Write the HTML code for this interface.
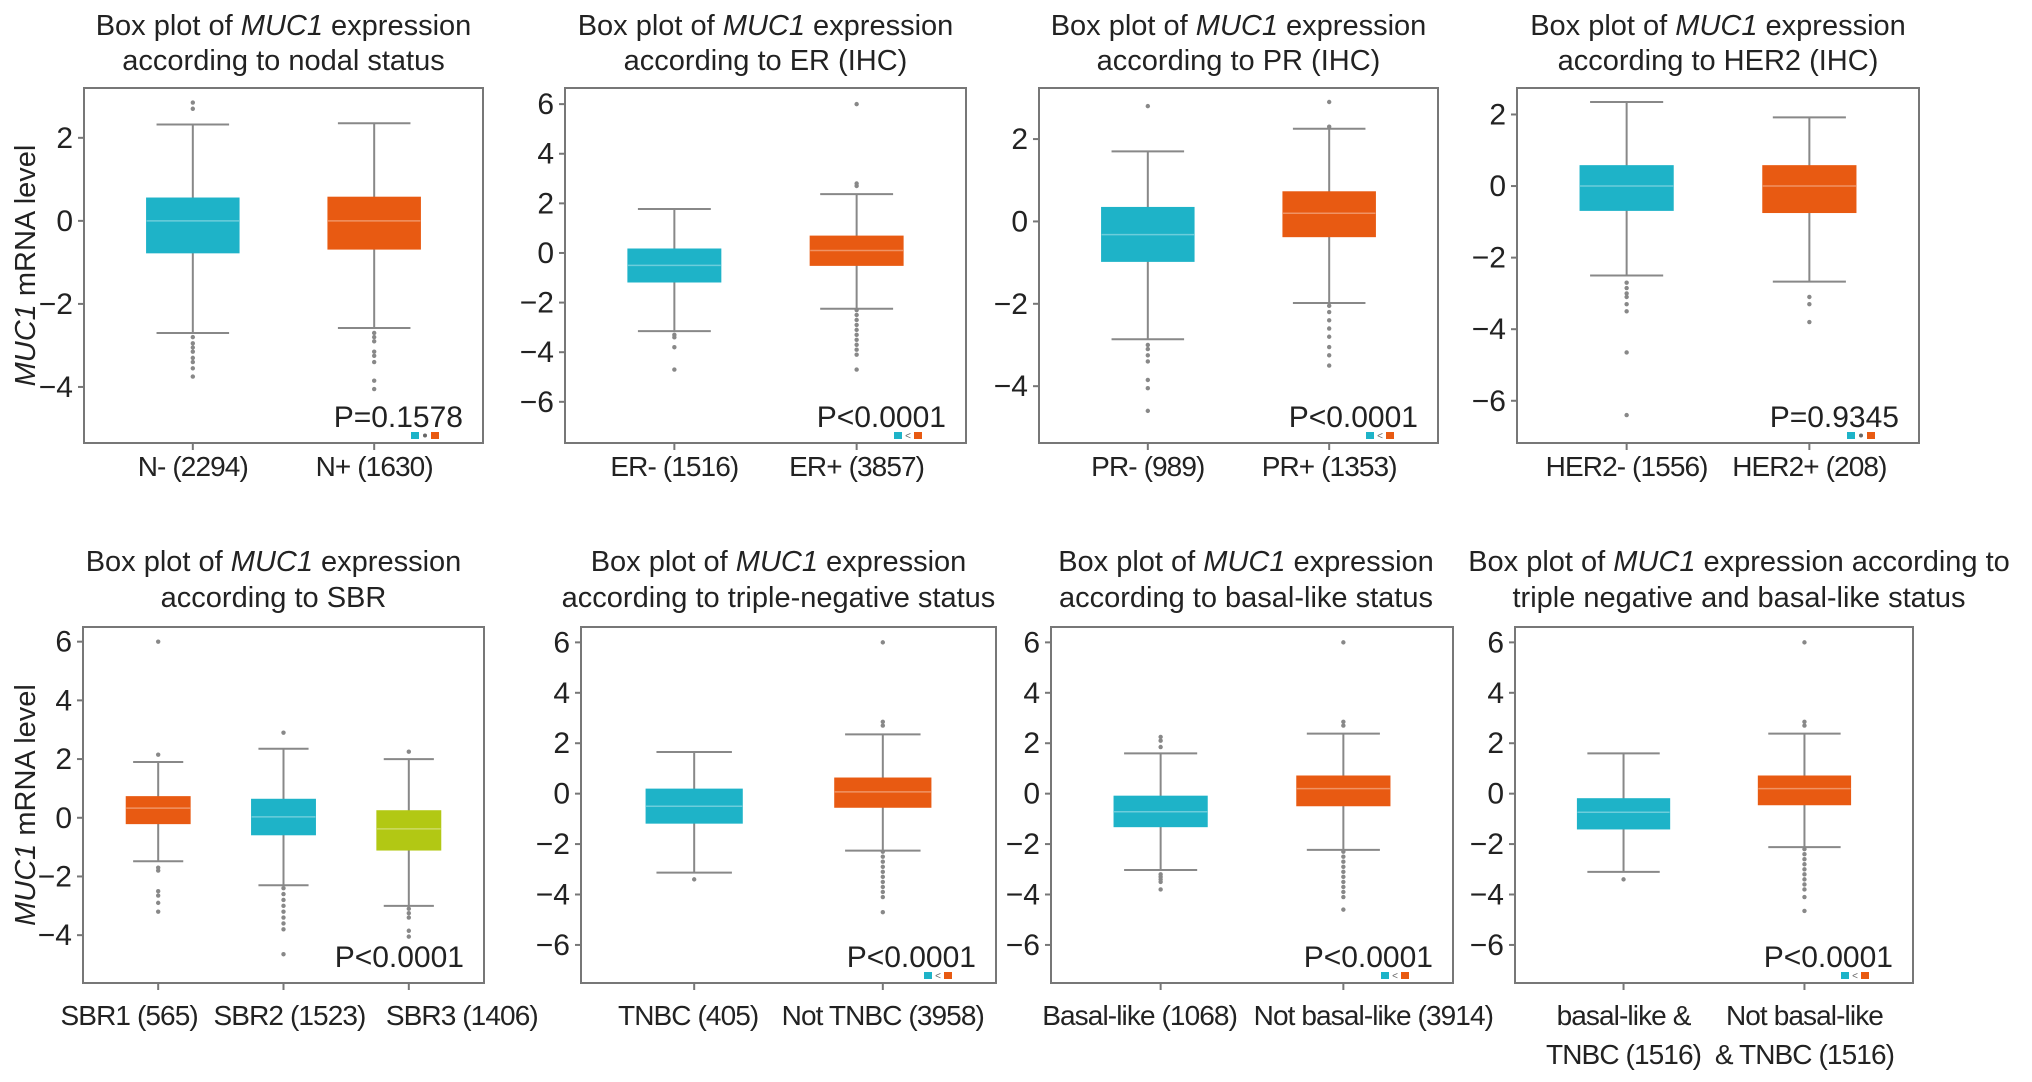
<!DOCTYPE html>
<html><head><meta charset="utf-8"><title>MUC1 box plots</title>
<style>
html,body{margin:0;padding:0;background:#fff;}
svg{display:block;font-family:"Liberation Sans",Arial,sans-serif;}
</style></head>
<body>
<svg id="fig" width="2032" height="1082" viewBox="0 0 2032 1082" xmlns="http://www.w3.org/2000/svg"></svg>
<script>
// ---- Data (each box: [lowerWhisker, q1, median, q3, upperWhisker]) ----
const nodalCats = ["N- (2294)", "N+ (1630)"];
const nodalBoxes = [[-2.7, -0.77, 0.0, 0.55, 2.32], [-2.58, -0.68, 0.0, 0.57, 2.35]];
const nodalOutliers = [[2.7, 2.85, -2.8, -2.95, -3.05, -3.15, -3.3, -3.4, -3.55, -3.75], [-2.7, -2.8, -2.9, -3.15, -3.25, -3.4, -3.85, -4.05]];
const erCats = ["ER- (1516)", "ER+ (3857)"];
const erBoxes = [[-3.15, -1.17, -0.5, 0.16, 1.77], [-2.25, -0.5, 0.1, 0.68, 2.37]];
const erOutliers = [[-3.3, -3.4, -3.8, -4.7], [2.7, 2.8, 6.0, -2.3, -2.5, -2.7, -2.9, -3.1, -3.3, -3.5, -3.7, -3.9, -4.1, -4.7]];
const prCats = ["PR- (989)", "PR+ (1353)"];
const prBoxes = [[-2.86, -0.97, -0.32, 0.34, 1.7], [-1.98, -0.37, 0.2, 0.72, 2.25]];
const prOutliers = [[2.8, -3.0, -3.1, -3.25, -3.4, -3.85, -4.05, -4.6], [2.3, 2.9, -2.05, -2.2, -2.4, -2.6, -2.8, -3.05, -3.25, -3.5]];
const her2Cats = ["HER2- (1556)", "HER2+ (208)"];
const her2Boxes = [[-2.5, -0.68, 0.0, 0.57, 2.35], [-2.67, -0.74, 0.0, 0.57, 1.92]];
const her2Outliers = [[-2.7, -2.85, -3.0, -3.1, -3.3, -3.5, -4.65, -6.4], [-3.1, -3.3, -3.8]];
const sbrCats = ["SBR1 (565)", "SBR2 (1523)", "SBR3 (1406)"];
const sbrBoxes = [[-1.48, -0.2, 0.33, 0.72, 1.9], [-2.3, -0.58, 0.03, 0.63, 2.35], [-3.0, -1.1, -0.38, 0.24, 2.0]];
const sbrOutliers = [[6.0, 2.15, -1.7, -1.8, -2.5, -2.65, -2.9, -3.2], [2.9, -2.4, -2.6, -2.8, -3.0, -3.2, -3.4, -3.6, -3.8, -4.65], [2.25, -3.1, -3.25, -3.4, -3.85, -4.05]];
const tnbcCats = ["TNBC (405)", "Not TNBC (3958)"];
const tnbcBoxes = [[-3.13, -1.17, -0.5, 0.18, 1.65], [-2.26, -0.54, 0.07, 0.62, 2.35]];
const tnbcOutliers = [[-3.4], [2.7, 2.85, 6.0, -2.3, -2.5, -2.7, -2.9, -3.1, -3.3, -3.5, -3.7, -3.9, -4.1, -4.7]];
const basalCats = ["Basal-like (1068)", "Not basal-like (3914)"];
const basalBoxes = [[-3.03, -1.31, -0.72, -0.1, 1.6], [-2.23, -0.48, 0.2, 0.7, 2.38]];
const basalOutliers = [[1.85, 2.1, 2.25, -3.2, -3.3, -3.4, -3.5, -3.8], [2.7, 2.85, 6.0, -2.3, -2.5, -2.7, -2.9, -3.1, -3.3, -3.5, -3.7, -3.9, -4.1, -4.6]];
const comboCats = [["basal-like &", "TNBC (1516)"], ["Not basal-like", "& TNBC (1516)"]];
const comboBoxes = [[-3.1, -1.4, -0.74, -0.2, 1.6], [-2.12, -0.44, 0.2, 0.7, 2.38]];
const comboOutliers = [[-3.4], [2.7, 2.85, 6.0, -2.2, -2.4, -2.6, -2.8, -3.0, -3.2, -3.4, -3.6, -3.8, -4.1, -4.65]];
const pValues = ["P=0.1578", "P<0.0001", "P<0.0001", "P=0.9345", "P<0.0001", "P<0.0001", "P<0.0001", "P<0.0001"];
const ticksA = [-4, -2, 0, 2];
const ticksB = [-6, -4, -2, 0, 2, 4, 6];
const ticksC = [-6, -4, -2, 0, 2];
const ticksD = [-4, -2, 0, 2, 4, 6];

const TEAL = "#1eb3c8", ORANGE = "#e85a12", LIME = "#b2c814";
const NS = "http://www.w3.org/2000/svg";
const svg = document.getElementById("fig");
function mk(tag, attrs, parent) {
  const e = document.createElementNS(NS, tag);
  for (const k in attrs) e.setAttribute(k, attrs[k]);
  (parent || svg).appendChild(e);
  return e;
}

const R1 = {y0:88, y1:443, labOff:33, t1:53, t2:18};
const R2 = {y0:627, y1:983, labOff:42, t1:56, t2:20};
const panels = [
  {name:"nodal", t1:"according to nodal status", x0:84, x1:483, r:R1, ymin:-5.35, ymax:3.2, ticks:ticksA, cats:nodalCats, boxes:nodalBoxes, outs:nodalOutliers, cols:[TEAL,ORANGE], mark:"•", ylab:true},
  {name:"er", t1:"according to ER (IHC)", x0:565, x1:966, r:R1, ymin:-7.66, ymax:6.65, ticks:ticksB, cats:erCats, boxes:erBoxes, outs:erOutliers, cols:[TEAL,ORANGE], mark:"<"},
  {name:"pr", t1:"according to PR (IHC)", x0:1039, x1:1438, r:R1, ymin:-5.38, ymax:3.24, ticks:ticksA, cats:prCats, boxes:prBoxes, outs:prOutliers, cols:[TEAL,ORANGE], mark:"<"},
  {name:"her2", t1:"according to HER2 (IHC)", x0:1517, x1:1919, r:R1, ymin:-7.18, ymax:2.74, ticks:ticksC, cats:her2Cats, boxes:her2Boxes, outs:her2Outliers, cols:[TEAL,ORANGE], mark:"•"},
  {name:"sbr", t1:"according to SBR", x0:83, x1:484, r:R2, ymin:-5.63, ymax:6.5, ticks:ticksD, cats:sbrCats, boxes:sbrBoxes, outs:sbrOutliers, cols:[ORANGE,TEAL,LIME], mark:null, ylab:true, titleShift:-10, labShift:[-29, 6, 53]},
  {name:"tnbc", t1:"according to triple-negative status", x0:581, x1:996, r:R2, ymin:-7.51, ymax:6.61, ticks:ticksB, cats:tnbcCats, boxes:tnbcBoxes, outs:tnbcOutliers, cols:[TEAL,ORANGE], mark:"<", titleShift:-10, labShift:[-6, 0]},
  {name:"basal", t1:"according to basal-like status", x0:1051, x1:1453, r:R2, ymin:-7.51, ymax:6.61, ticks:ticksB, cats:basalCats, boxes:basalBoxes, outs:basalOutliers, cols:[TEAL,ORANGE], mark:"<", titleShift:-6, labShift:[-21, 30]},
  {name:"combo", t0c:" expression according to", t1:"triple negative and basal-like status", x0:1515, x1:1913, r:R2, ymin:-7.51, ymax:6.61, ticks:ticksB, cats:comboCats, boxes:comboBoxes, outs:comboOutliers, cols:[TEAL,ORANGE], mark:"<", titleShift:25}
];

panels.forEach((p, pi) => {
  const r = p.r;
  const y0 = r.y0, y1 = r.y1;
  const g = mk("g", {});
  
  
  const n = p.cats.length;
  const xs = v => p.x0 + (v - 0.4) / (n + 0.2) * (p.x1 - p.x0);
  const ys = v => y1 - (v - p.ymin) / (p.ymax - p.ymin) * (y1 - y0);
  const unit = (p.x1 - p.x0) / (n + 0.2);
  const cx = (p.x0 + p.x1) / 2 + (p.titleShift || 0);

  const t = mk("text", {x:cx, y:y0 - r.t1, "text-anchor":"middle", "font-size":29, fill:"#222"}, g);
  
  
  mk("tspan", {}, t).textContent = "Box plot of ";
  mk("tspan", {"font-style":"italic"}, t).textContent = "MUC1";
  mk("tspan", {}, t).textContent = p.t0c || " expression";
  const t2 = mk("text", {x:cx, y:y0 - r.t2, "text-anchor":"middle", "font-size":29, fill:"#222"}, g);
  
  
  t2.textContent = p.t1;

  const fr = mk("rect", {x:p.x0, y:y0, width:p.x1 - p.x0, height:y1 - y0, fill:"#fff", stroke:"#777", "stroke-width":2}, g);
  
  

  p.ticks.forEach(v => {
    const y = ys(v);
    const tk = mk("line", {x1:p.x0 - 6, x2:p.x0, y1:y, y2:y, stroke:"#777", "stroke-width":2}, g);
    
    
    const tl = mk("text", {x:p.x0 - 11, y:y + 10, "text-anchor":"end", "font-size":30, fill:"#222"}, g);
    
    
    tl.textContent = v < 0 ? "\u2212" + Math.abs(v) : String(v);
  });

  if (p.ylab) {
    const yc = (y0 + y1) / 2;
    const yt = mk("text", {x:0, y:0, transform:`translate(35,${yc}) rotate(-90)`, "text-anchor":"middle", "font-size":29, fill:"#222"}, g);
    
    
    mk("tspan", {"font-style":"italic"}, yt).textContent = "MUC1";
    mk("tspan", {}, yt).textContent = " mRNA level";
  }

  p.boxes.forEach((b, i) => {
    const x = xs(i + 1);
    const hw = unit * 0.255;
    const cap = unit * 0.2;
    const bg = mk("g", {}, g);
    
    
    mk("line", {x1:x, x2:x, y1:ys(b[0]), y2:ys(b[4]), stroke:"#888", "stroke-width":2}, bg);
    mk("line", {x1:x - cap, x2:x + cap, y1:ys(b[4]), y2:ys(b[4]), stroke:"#888", "stroke-width":2}, bg);
    mk("line", {x1:x - cap, x2:x + cap, y1:ys(b[0]), y2:ys(b[0]), stroke:"#888", "stroke-width":2}, bg);
    mk("rect", {x:x - hw, y:ys(b[3]), width:2 * hw, height:ys(b[1]) - ys(b[3]), fill:p.cols[i], stroke:p.cols[i], "stroke-width":1}, bg);
    mk("line", {x1:x - hw, x2:x + hw, y1:ys(b[2]), y2:ys(b[2]), stroke:"rgba(255,255,255,0.35)", "stroke-width":1.5}, bg);
    p.outs[i].forEach(o => {
      const c = mk("circle", {cx:x, cy:ys(o), r:2.2, fill:"#888"}, bg);
      
      
    });
    mk("line", {x1:x, x2:x, y1:y1, y2:y1 + 7, stroke:"#777", "stroke-width":2}, g);
    const lab = p.cats[i];
    const lx = x + (p.labShift ? p.labShift[i] : 0);
    const xl = mk("text", {x:lx, y:y1 + r.labOff, "text-anchor":"middle", "font-size":28, "letter-spacing":"-0.9", fill:"#222"}, g);
    
    
    if (Array.isArray(lab)) {
      mk("tspan", {x:lx, dy:0}, xl).textContent = lab[0];
      mk("tspan", {x:lx, dy:39}, xl).textContent = lab[1];
    } else xl.textContent = lab;
  });

  const pv = mk("text", {x:p.x1 - 20, y:y1 - 16, "text-anchor":"end", "font-size":30, fill:"#222"}, g);
  
  
  pv.textContent = pValues[pi];

  if (p.mark) {
    const mx = p.x1 - 72, my = y1 - 11;
    const mg = mk("g", {}, g);
    
    
    mk("rect", {x:mx, y:my, width:8, height:7, fill:TEAL}, mg);
    if (p.mark === "•") mk("circle", {cx:mx + 14, cy:my + 3.5, r:2, fill:"#666"}, mg);
    else { const lt = mk("text", {x:mx + 14, y:my + 7, "text-anchor":"middle", "font-size":10, fill:"#666"}, mg); lt.textContent = "<"; }
    mk("rect", {x:mx + 20, y:my, width:8, height:7, fill:ORANGE}, mg);
  }
});
</script>
</body></html>
